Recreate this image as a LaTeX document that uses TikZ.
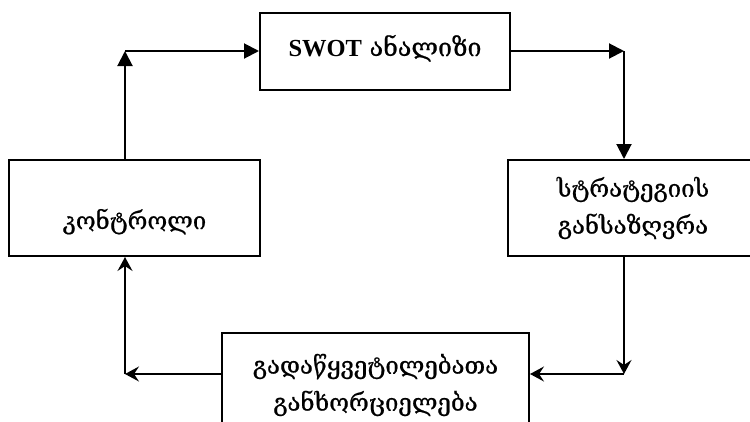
\documentclass[tikz,border=0pt]{standalone}
\usepackage{fontspec}
\setmainfont{Liberation Serif}
\newfontfamily\geofont[FakeBold=0.8]{DejaVu Serif}
\usetikzlibrary{arrows.meta}

\tikzset{
  stagebox/.style={draw, line width=2pt, inner sep=0pt, align=center,
    font=\geofont\fontsize{24}{37}\selectfont},
  topflow/.style={line width=2pt, -{Triangle[length=15pt,width=15pt]}},
  lowflow/.style={line width=2pt, -{Stealth[length=14pt,width=15pt,inset=5pt]}}
}

\begin{document}
\begin{tikzpicture}[x=1pt,y=-1pt]
  \useasboundingbox (0,0) rectangle (750,421);
  \clip (0,0) rectangle (750,421);

  % SWOT box
  \node[stagebox, minimum width=250pt, minimum height=77pt] (swot) at (385,51)
    {\raisebox{-5pt}[0pt][0pt]{{\rmfamily\bfseries\fontsize{24.5}{30}\selectfont SWOT} {\fontsize{25}{30}\selectfont ანალიზი}}};
  % strategy box
  \node[stagebox, minimum width=250pt, minimum height=96pt] (strat) at (633,208)
    {სტრატეგიის\\განსაზღვრა};
  % execution box
  \node[stagebox, minimum width=307pt, minimum height=104pt] (exec) at (375.5,385)
    {გადაწყვეტილებათა\\განხორციელება};
  % control box
  \node[stagebox, minimum width=251pt, minimum height=96pt] (ctrl) at (134.5,208)
    {\raisebox{-21pt}[0pt][0pt]{კონტროლი}};

  % corners
  \coordinate (cnrTL) at (125,51);
  \coordinate (cnrTR) at (624,51);
  \coordinate (cnrBR) at (624,374);
  \coordinate (cnrBL) at (125,374);

  % connectors
  \draw[topflow] (cnrTL |- ctrl.north) -- (cnrTL);
  \draw[topflow] (cnrTL) -- (swot.west);
  \draw[topflow] (swot.east) -- (cnrTR);
  \draw[topflow] (cnrTR) -- (cnrTR |- strat.north);
  \draw[lowflow] (cnrBR |- strat.south) -- (cnrBR);
  \draw[lowflow] (cnrBR) -- (exec.east |- cnrBR);
  \draw[lowflow] (exec.west |- cnrBL) -- (cnrBL);
  \draw[lowflow] (cnrBL) -- (cnrBL |- ctrl.south);
\end{tikzpicture}
\end{document}
